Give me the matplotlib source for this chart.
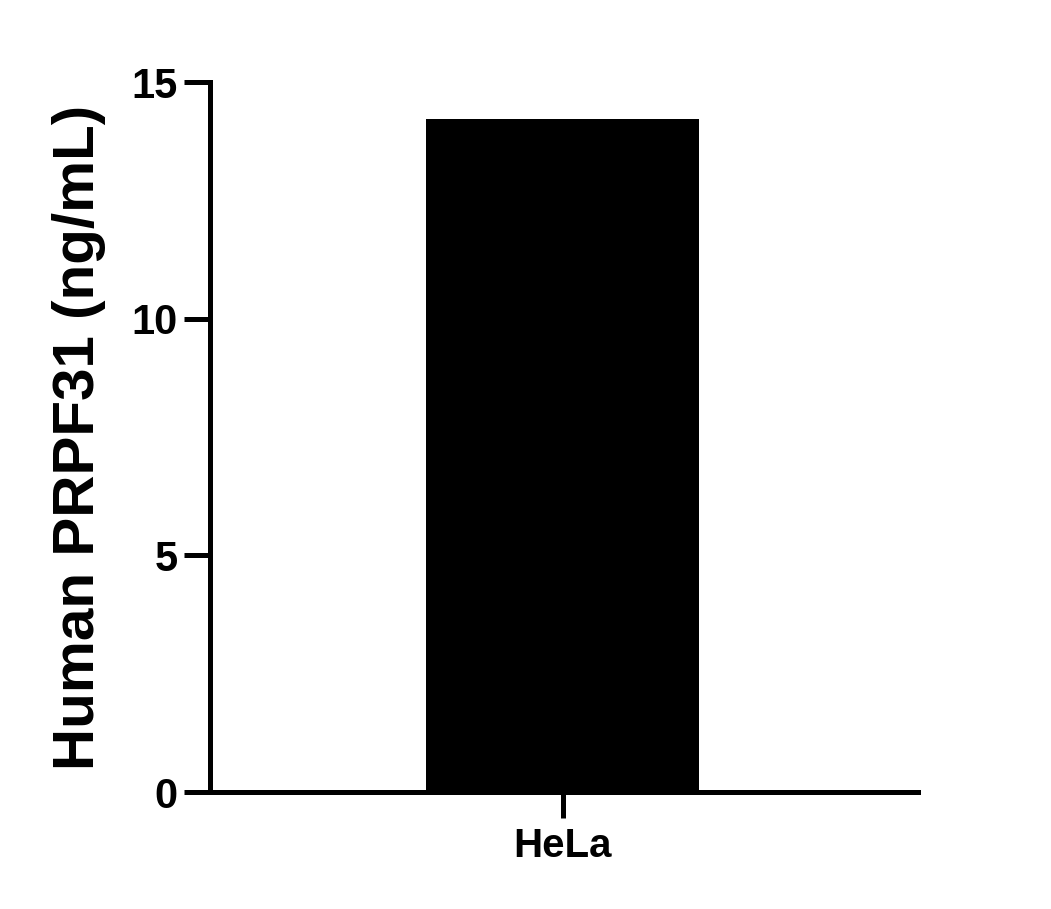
"""Human PRPF31 concentration bar chart."""

import matplotlib

matplotlib.use("Agg")
import matplotlib.pyplot as plt

samples = ["HeLa"]
concentration_ng_ml = [14.22]
y_ticks = [0, 5, 10, 15]

plt.rcParams["font.family"] = ["Liberation Sans", "DejaVu Sans"]
plt.rcParams["font.weight"] = "bold"

fig = plt.figure(figsize=(10.51, 9.09), dpi=100)
ax = fig.add_axes([210 / 1051, 117 / 909, 708 / 1051, 710 / 909])

positions = list(range(len(samples)))
ax.bar(positions, concentration_ng_ml, width=1.0, color="black", edgecolor="black", linewidth=0)

ax.set_xlim(-1.29, 1.30)
ax.set_ylim(0, 15)
ax.set_yticks(y_ticks)
ax.set_yticklabels([str(t) for t in y_ticks], fontsize=30, fontweight="bold")
ax.set_xticks(positions)
ax.set_xticklabels(samples, fontsize=29, fontweight="bold")

for side in ("top", "right"):
    ax.spines[side].set_visible(False)
for side in ("left", "bottom"):
    ax.spines[side].set_linewidth(3.6)
    ax.spines[side].set_capstyle("projecting")
ax.tick_params(axis="both", width=3.6, length=18.5, pad=5)
ax.tick_params(axis="x", pad=7)

ax.set_ylabel("Human PRPF31 (ng/mL)", fontsize=42, fontweight="bold", labelpad=18)

fig.savefig("out.png", dpi=100)
plt.close(fig)
